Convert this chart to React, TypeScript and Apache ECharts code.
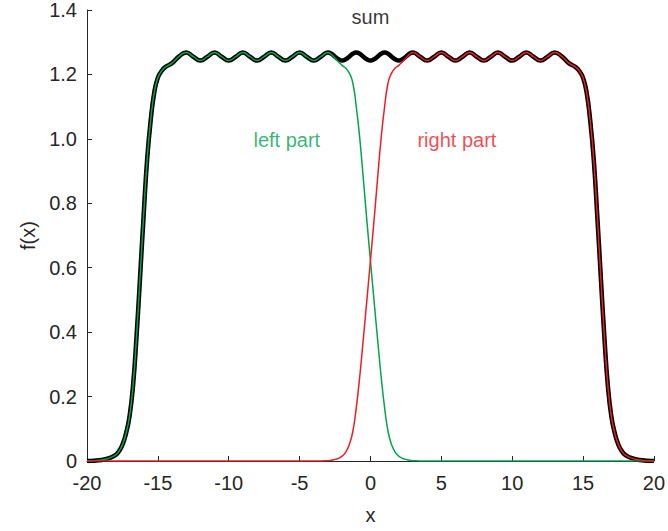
import React, { useEffect, useRef } from "react";
import * as echarts from "echarts";

// x grid (shared by all three curves)
const X_VALUES = [
  -20, -19.5, -19, -18.5, -18, -17.75, -17.5, -17.25,
  -17, -16.75, -16.5, -16.25, -16, -15.75, -15.5, -15.25,
  -15, -14.75, -14.5, -14, -13.5,
  -13, -12.5, -12, -11.5, -11, -10.5, -10, -9.5, -9, -8.5, -8, -7.5, -7, -6.5, -6, -5.5, -5, -4.5, -4, -3.5,
  -3, -2.75, -2.5, -2.25, -2, -1.75, -1.5, -1.25, -1, -0.75, -0.5, -0.25,
  0,
  0.25, 0.5, 0.75, 1, 1.25, 1.5, 1.75, 2, 2.25, 2.5, 2.75, 3,
  3.5, 4, 4.5, 5, 5.5, 6, 6.5, 7, 7.5, 8, 8.5, 9, 9.5, 10, 10.5, 11, 11.5, 12, 12.5, 13,
  13.5, 14, 14.5, 14.75, 15,
  15.25, 15.5, 15.75, 16, 16.25, 16.5, 16.75, 17,
  17.25, 17.5, 17.75, 18, 18.5, 19, 19.5, 20,
];

const SUM_VALUES = [
  0, 0.001, 0.003, 0.008, 0.018, 0.03, 0.05, 0.085,
  0.138, 0.235, 0.39, 0.575, 0.765, 0.94, 1.06, 1.145,
  1.19, 1.21, 1.222, 1.235, 1.256,
  1.268, 1.255, 1.243, 1.255, 1.268, 1.255, 1.243, 1.255, 1.268, 1.255, 1.243, 1.255, 1.268, 1.255, 1.243, 1.255, 1.268, 1.255, 1.243, 1.255,
  1.268, 1.264, 1.255, 1.247, 1.243, 1.247, 1.255, 1.264, 1.268, 1.264, 1.255, 1.247,
  1.243,
  1.247, 1.255, 1.264, 1.268, 1.264, 1.255, 1.247, 1.243, 1.247, 1.255, 1.264, 1.268,
  1.255, 1.243, 1.255, 1.268, 1.255, 1.243, 1.255, 1.268, 1.255, 1.243, 1.255, 1.268, 1.255, 1.243, 1.255, 1.268, 1.255, 1.243, 1.255, 1.268,
  1.256, 1.235, 1.222, 1.21, 1.19,
  1.145, 1.06, 0.94, 0.765, 0.575, 0.39, 0.235, 0.138,
  0.085, 0.05, 0.03, 0.018, 0.008, 0.003, 0.001, 0,
];

const LEFT_VALUES = [
  0, 0.001, 0.003, 0.008, 0.018, 0.03, 0.05, 0.085,
  0.138, 0.235, 0.39, 0.575, 0.765, 0.94, 1.06, 1.145,
  1.19, 1.21, 1.222, 1.235, 1.256,
  1.268, 1.255, 1.243, 1.255, 1.268, 1.255, 1.243, 1.255, 1.268, 1.255, 1.243, 1.255, 1.268, 1.255, 1.243, 1.255, 1.268, 1.255, 1.243, 1.255,
  1.268, 1.262, 1.25, 1.239, 1.228, 1.22, 1.205, 1.175, 1.1, 1.0, 0.875, 0.745,
  0.622,
  0.5, 0.38, 0.264, 0.165, 0.09, 0.05, 0.027, 0.015, 0.008, 0.005, 0.002, 0.001,
  0, 0, 0, 0, 0, 0, 0, 0, 0, 0, 0, 0, 0, 0, 0, 0, 0, 0, 0, 0,
  0, 0, 0, 0, 0,
  0, 0, 0, 0, 0, 0, 0, 0,
  0, 0, 0, 0, 0, 0, 0, 0,
];

const RIGHT_VALUES = [
  0, 0, 0, 0, 0, 0, 0, 0,
  0, 0, 0, 0, 0, 0, 0, 0,
  0, 0, 0, 0, 0,
  0, 0, 0, 0, 0, 0, 0, 0, 0, 0, 0, 0, 0, 0, 0, 0, 0, 0, 0, 0,
  0.001, 0.002, 0.005, 0.008, 0.015, 0.027, 0.05, 0.09, 0.165, 0.264, 0.38, 0.5,
  0.622,
  0.745, 0.875, 1.0, 1.1, 1.175, 1.205, 1.22, 1.228, 1.239, 1.25, 1.262, 1.268,
  1.255, 1.243, 1.255, 1.268, 1.255, 1.243, 1.255, 1.268, 1.255, 1.243, 1.255, 1.268, 1.255, 1.243, 1.255, 1.268, 1.255, 1.243, 1.255, 1.268,
  1.256, 1.235, 1.222, 1.21, 1.19,
  1.145, 1.06, 0.94, 0.765, 0.575, 0.39, 0.235, 0.138,
  0.085, 0.05, 0.03, 0.018, 0.008, 0.003, 0.001, 0,
];

// text annotations (data coordinates)
const ANNOTATIONS = [
  { name: "sum", value: [0, 1.377], color: "#000000" },
  { name: "left part", value: [-5.9, 0.995], color: "#00a550" },
  { name: "right part", value: [6.1, 0.995], color: "#ee1c25" },
];

const X_TICKS = { min: -20, max: 20, interval: 5 };
const Y_TICKS = { min: 0, max: 1.4, interval: 0.2 };

const FONT = "'Liberation Sans', Arial, Helvetica, sans-serif";
const AXIS_COLOR = "#262626";

export default function App() {
  const ref = useRef<HTMLDivElement>(null);

  useEffect(() => {
    if (!ref.current) return;
    const chart = echarts.init(ref.current, undefined, { renderer: "svg" });
    const pairs = (vals: number[]) => X_VALUES.map((x, i) => [x, vals[i]]);

    chart.setOption({
      animation: false,
      backgroundColor: "#ffffff",
      textStyle: { fontFamily: FONT },
      grid: { left: 87, right: 10, top: 10, bottom: 70, containLabel: false },
      xAxis: {
        type: "value",
        min: X_TICKS.min,
        max: X_TICKS.max,
        interval: X_TICKS.interval,
        name: "x",
        nameLocation: "middle",
        nameGap: 44,
        nameTextStyle: { color: AXIS_COLOR, fontSize: 20, fontFamily: FONT },
        axisLine: { show: true, onZero: false, lineStyle: { color: AXIS_COLOR, width: 1 } },
        axisTick: { show: true, inside: true, length: 5, lineStyle: { color: AXIS_COLOR } },
        axisLabel: { color: AXIS_COLOR, fontSize: 20, fontFamily: FONT, margin: 12 },
        splitLine: { show: false },
      },
      yAxis: {
        type: "value",
        min: Y_TICKS.min,
        max: Y_TICKS.max,
        interval: Y_TICKS.interval,
        name: "f(x)",
        nameLocation: "middle",
        nameGap: 46,
        nameTextStyle: { color: AXIS_COLOR, fontSize: 20, fontFamily: FONT },
        axisLine: { show: true, onZero: false, lineStyle: { color: AXIS_COLOR, width: 1 } },
        axisTick: { show: true, inside: true, length: 5, lineStyle: { color: AXIS_COLOR } },
        axisLabel: {
          color: AXIS_COLOR,
          fontSize: 20,
          fontFamily: FONT,
          margin: 10,
          formatter: (v: number) => (v === 0 ? "0" : v.toFixed(1)),
        },
        splitLine: { show: false },
      },
      series: [
        {
          name: "sum",
          type: "line",
          data: pairs(SUM_VALUES),
          smooth: 0.5,
          showSymbol: false,
          symbol: "none",
          lineStyle: { color: "#000000", width: 4.5 },
          z: 2,
        },
        {
          name: "left part",
          type: "line",
          data: pairs(LEFT_VALUES),
          smooth: 0.5,
          showSymbol: false,
          symbol: "none",
          lineStyle: { color: "#00a550", width: 1.5 },
          z: 3,
        },
        {
          name: "right part",
          type: "line",
          data: pairs(RIGHT_VALUES),
          smooth: 0.5,
          showSymbol: false,
          symbol: "none",
          lineStyle: { color: "#ee1c25", width: 1.5 },
          z: 4,
        },
        {
          name: "labels",
          type: "scatter",
          silent: true,
          symbolSize: 1,
          itemStyle: { color: "rgba(0,0,0,0)" },
          data: ANNOTATIONS.map((a) => ({
            name: a.name,
            value: a.value,
            label: { color: a.color },
          })),
          label: {
            show: true,
            position: "inside",
            formatter: "{b}",
            fontSize: 20,
            fontFamily: FONT,
            align: "center",
            verticalAlign: "middle",
          },
          z: 5,
        },
      ],
    });

    return () => chart.dispose();
  }, []);

  return (
    <div
      ref={ref}
      style={{ position: "absolute", left: 0, top: 0, width: 668, height: 531, background: "#fff" }}
    />
  );
}
